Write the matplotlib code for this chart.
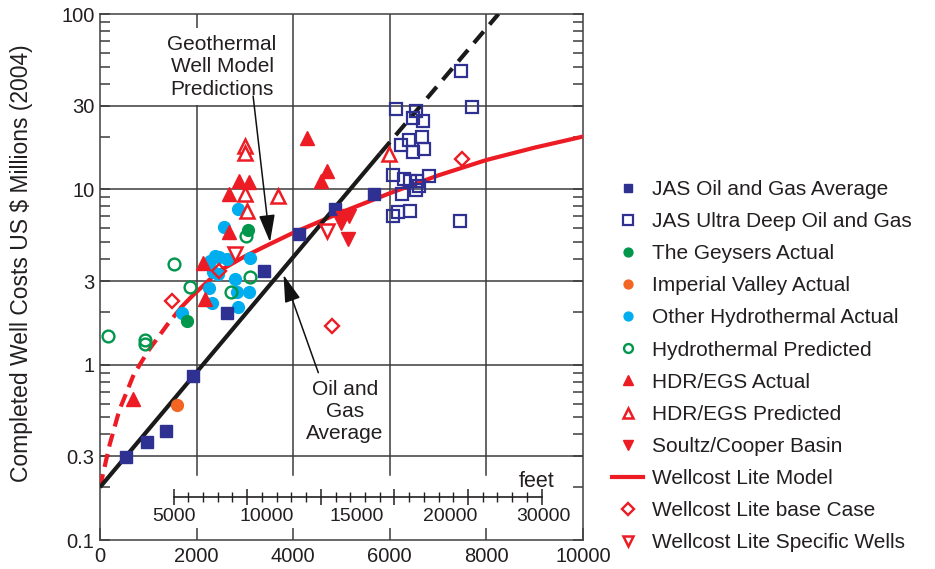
import numpy as np
import matplotlib
matplotlib.use('Agg')
import matplotlib.pyplot as plt
from matplotlib.ticker import LogLocator, NullFormatter, FixedLocator

plt.rcParams['font.family'] = ['Liberation Sans', 'DejaVu Sans']

# ---- data (depth in m, cost in US$ millions 2004) ----
jas_avg_x = [538, 973, 1366, 1925, 2629, 3395, 4120, 4865, 5673]
jas_avg_y = [0.296, 0.36, 0.416, 0.866, 1.97, 3.42, 5.55, 7.69, 9.38]

jas_deep_x = [6128, 6542, 6480, 6687, 6667, 6398, 6232, 6480, 6708, 7702, 7474,
              6066, 6294, 6418, 6563, 6812, 6605, 6542, 6253, 6066, 6170, 6418, 7453]
jas_deep_y = [28.9, 27.8, 25.4, 24.6, 20.0, 19.0, 18.0, 16.4, 16.9, 29.5, 47.4,
              12.0, 11.5, 11.2, 11.1, 11.9, 10.4, 9.85, 9.38, 7.03, 7.4, 7.5, 6.58]

geysers_x = [3064, 1801]
geysers_y = [5.9, 1.78]

imperial_x = [1594]
imperial_y = [0.59]

other_hydro_x = [2857, 2567, 2381, 2464, 2629, 2277, 3106, 2340, 2443, 2795,
                 2257, 2836, 3085, 2319, 2857, 1698]
other_hydro_y = [7.7, 6.1, 4.16, 4.1, 4.0, 3.9, 4.06, 3.37, 3.29, 3.08,
                 2.74, 2.60, 2.60, 2.25, 2.14, 1.97]

hydro_pred_x = [166, 932, 932, 1532, 1863, 2712, 3106, 3023]
hydro_pred_y = [1.46, 1.39, 1.32, 3.75, 2.77, 2.60, 3.16, 5.4]

hdr_act_x = [4286, 4700, 4576, 2878, 3085, 2671, 2671, 2133, 2174, 683]
hdr_act_y = [19.5, 12.7, 11.1, 11.2, 11.0, 9.37, 5.7, 3.79, 2.37, 0.64]

hdr_pred_x = [3002, 3002, 3002, 3685, 3043, 5983]
hdr_pred_y = [17.6, 16.2, 9.37, 9.12, 7.5, 16.0]

soultz_x = [5031, 5155, 4990, 5135]
soultz_y = [6.9, 7.0, 6.4, 5.2]

base_case_x = [2464, 1490, 4803, 7495]
base_case_y = [3.42, 2.31, 1.67, 14.8]

specific_x = [4700, 2795]
specific_y = [5.78, 4.27]

# Wellcost Lite model curve (dashed part then solid part)
model_dash_x = [0, 200, 400, 700, 1000, 1400, 1700]
model_dash_y = [0.2, 0.35, 0.55, 0.88, 1.2, 1.7, 2.15]
model_x = [1700, 1900, 2450, 3000, 3500, 4000, 5000, 6000, 7000, 8000, 9000, 10000]
model_y = [2.15, 2.45, 3.4, 4.15, 4.85, 5.65, 7.4, 9.5, 12.0, 14.7, 17.3, 20.0]

# Oil and gas average trend
oilgas_x = [0, 5800]
oilgas_y = [0.2, 16.0]
oilgas_ext_x = [5800, 8250]
oilgas_ext_y = [16.0, 100.0]

x_ticks = [0, 2000, 4000, 6000, 8000, 10000]
y_ticks = [0.1, 0.3, 1, 3, 10, 30, 100]
y_ticklabels = ['0.1', '0.3', '1', '3', '10', '30', '100']
grid_y = [0.3, 1, 3, 10, 30]
grid_x = [2000, 4000, 6000, 8000]

feet_major = [5000, 10000, 15000, 20000, 25000, 30000]
feet_minor = list(range(5000, 30001, 1000))
feet_labels = ['5000', '10000', '15000', '20000', '30000']
feet_label_pos = [5030, 11350, 17450, 23780, 30090]

# ---- colours ----
navy = '#2e3192'
green = '#00964b'
orange = '#f26522'
cyan = '#00aeef'
red = '#ed1c24'
ink = '#231f20'
gridc = '#3c3c3c'

fig = plt.figure(figsize=(9.35, 5.69), dpi=100)
ax = fig.add_axes([100 / 935, 29 / 569, 483 / 935, 526 / 569])
ax.set_yscale('log')
ax.set_xlim(0, 10000)
ax.set_ylim(0.1, 100)

# grid
for gy in grid_y:
    ax.axhline(gy, color=gridc, lw=1.1, zorder=1)
for gx in grid_x:
    ax.axvline(gx, ymin=0.124, ymax=1, color=gridc, lw=1.1, zorder=1)

# trend lines
ax.plot(oilgas_x, oilgas_y, color='#1a1a1a', lw=3, zorder=4, solid_capstyle='butt')
ax.plot(oilgas_ext_x, oilgas_ext_y, color='#1a1a1a', lw=3, zorder=4,
        linestyle=(0, (3.6, 2.2)))
ax.plot(model_dash_x, model_dash_y, color=red, lw=3, zorder=3,
        linestyle=(0, (3.2, 1.8)))
model_line, = ax.plot(model_x, model_y, color=red, lw=3, zorder=3)

ms = 8.5
h1, = ax.plot(jas_avg_x, jas_avg_y, 's', color=navy, ms=8, zorder=6)
h2, = ax.plot(jas_deep_x, jas_deep_y, 's', mfc='none', mec=navy, mew=1.6, ms=9, zorder=6)
h3, = ax.plot(geysers_x, geysers_y, 'o', color=green, ms=ms, zorder=6)
h4, = ax.plot(imperial_x, imperial_y, 'o', color=orange, ms=ms, zorder=6)
h5, = ax.plot(other_hydro_x, other_hydro_y, 'o', color=cyan, ms=8.5, zorder=5)
h6, = ax.plot(hydro_pred_x, hydro_pred_y, 'o', mfc='none', mec=green, mew=1.7, ms=8.5, zorder=6)
h7, = ax.plot(hdr_act_x, hdr_act_y, '^', color=red, ms=10, zorder=6)
h8, = ax.plot(hdr_pred_x, hdr_pred_y, '^', mfc='white', mec=red, mew=1.8, ms=10.5, zorder=6)
h9, = ax.plot(soultz_x, soultz_y, 'v', color=red, ms=10, zorder=6)
h11, = ax.plot(base_case_x, base_case_y, 'D', mfc='none', mec=red, mew=1.7, ms=7.5, zorder=6)
h12, = ax.plot(specific_x, specific_y, 'v', mfc='white', mec=red, mew=1.8, ms=10.5, zorder=6)

# axes styling
for s in ax.spines.values():
    s.set_color('#404040')
    s.set_linewidth(1.1)
ax.set_xticks(x_ticks)
ax.set_xticklabels([str(v) for v in x_ticks])
ax.tick_params(axis='x', direction='in', length=9, width=1.1, color=gridc,
               labelsize=14.5, labelcolor=ink, pad=5)
ax.yaxis.set_major_locator(FixedLocator(y_ticks))
ax.set_yticklabels(y_ticklabels)
ax.yaxis.set_minor_locator(LogLocator(base=10, subs=np.arange(2, 10)))
ax.yaxis.set_minor_formatter(NullFormatter())
ax.tick_params(axis='y', which='both', direction='in', left=True, right=True,
               length=7, width=1.1, color=gridc, labelsize=14.5, labelcolor=ink, pad=4)

fig.text(22 / 935, 1 - 263 / 569, 'Completed Well Costs US $ Millions (2004)',
         rotation=90, ha='center', va='center', fontsize=16.5, color=ink)

# feet scale
feet_y = 0.175
yfrac = (np.log10(feet_y) + 1) / 3
fax = ax.inset_axes([0, yfrac, 1, 0.001])
fax.patch.set_visible(False)
for k in ['top', 'left', 'right']:
    fax.spines[k].set_visible(False)
fax.spines['bottom'].set_bounds(feet_major[0], feet_major[-1])
fax.spines['bottom'].set_color(ink)
fax.spines['bottom'].set_linewidth(1.2)
fax.set_xlim(0, 10000 / 0.3048)
fax.set_yticks([])
fax.set_xticks(feet_major)
fax.set_xticks(feet_minor, minor=True)
fax.tick_params(axis='x', which='major', direction='inout', length=11, width=1.1,
                color=ink, labelbottom=False)
fax.tick_params(axis='x', which='minor', direction='inout', length=7, width=1.0,
                color=ink)
for lab, pos in zip(feet_labels, feet_label_pos):
    ax.text(pos * 0.3048, 0.137, lab, ha='center', va='center', fontsize=14,
            family=['Liberation Sans Narrow', 'Liberation Sans'], color=ink)
ax.text(9030, 0.216, 'feet', ha='center', va='center', fontsize=15.5, color=ink)

# annotations
ax.text(2526, 50, 'Geothermal\nWell Model\nPredictions', ha='center', va='center',
        fontsize=15, color=ink, linespacing=1.25, zorder=7,
        bbox=dict(boxstyle='square,pad=0.3', fc='white', ec='none'))
arrow_kw = dict(arrowstyle='-|>,head_length=1.3,head_width=0.38', color='#111111',
                lw=1.1, shrinkA=0, shrinkB=0, mutation_scale=13)
ax.annotate('', xy=(3520, 5.0), xytext=(3170, 34), arrowprops=arrow_kw, zorder=8)
ax.text(5072, 0.54, 'Oil and\nGas\nAverage', ha='center', va='center', fontsize=15,
        color=ink, linespacing=1.2, zorder=7)
ax.annotate('', xy=(3800, 3.25), xytext=(4520, 0.9), arrowprops=arrow_kw, zorder=8)

# legend
handles = [h1, h2, h3, h4, h5, h6, h7, h8, h9, model_line, h11, h12]
labels = ['JAS Oil and Gas Average', 'JAS Ultra Deep Oil and Gas', 'The Geysers Actual',
          'Imperial Valley Actual', 'Other Hydrothermal Actual', 'Hydrothermal Predicted',
          'HDR/EGS Actual', 'HDR/EGS Predicted', 'Soultz/Cooper Basin',
          'Wellcost Lite Model', 'Wellcost Lite base Case', 'Wellcost Lite Specific Wells']
leg = fig.legend(handles, labels, loc='upper left', bbox_to_anchor=(612 / 935, 1 - 180 / 569),
                 frameon=False, fontsize=15, markerscale=0.75, handlelength=1.5,
                 handletextpad=0.4, labelspacing=0.63, borderpad=0, borderaxespad=0)
for t in leg.get_texts():
    t.set_color(ink)

fig.savefig('out.png', dpi=100)
